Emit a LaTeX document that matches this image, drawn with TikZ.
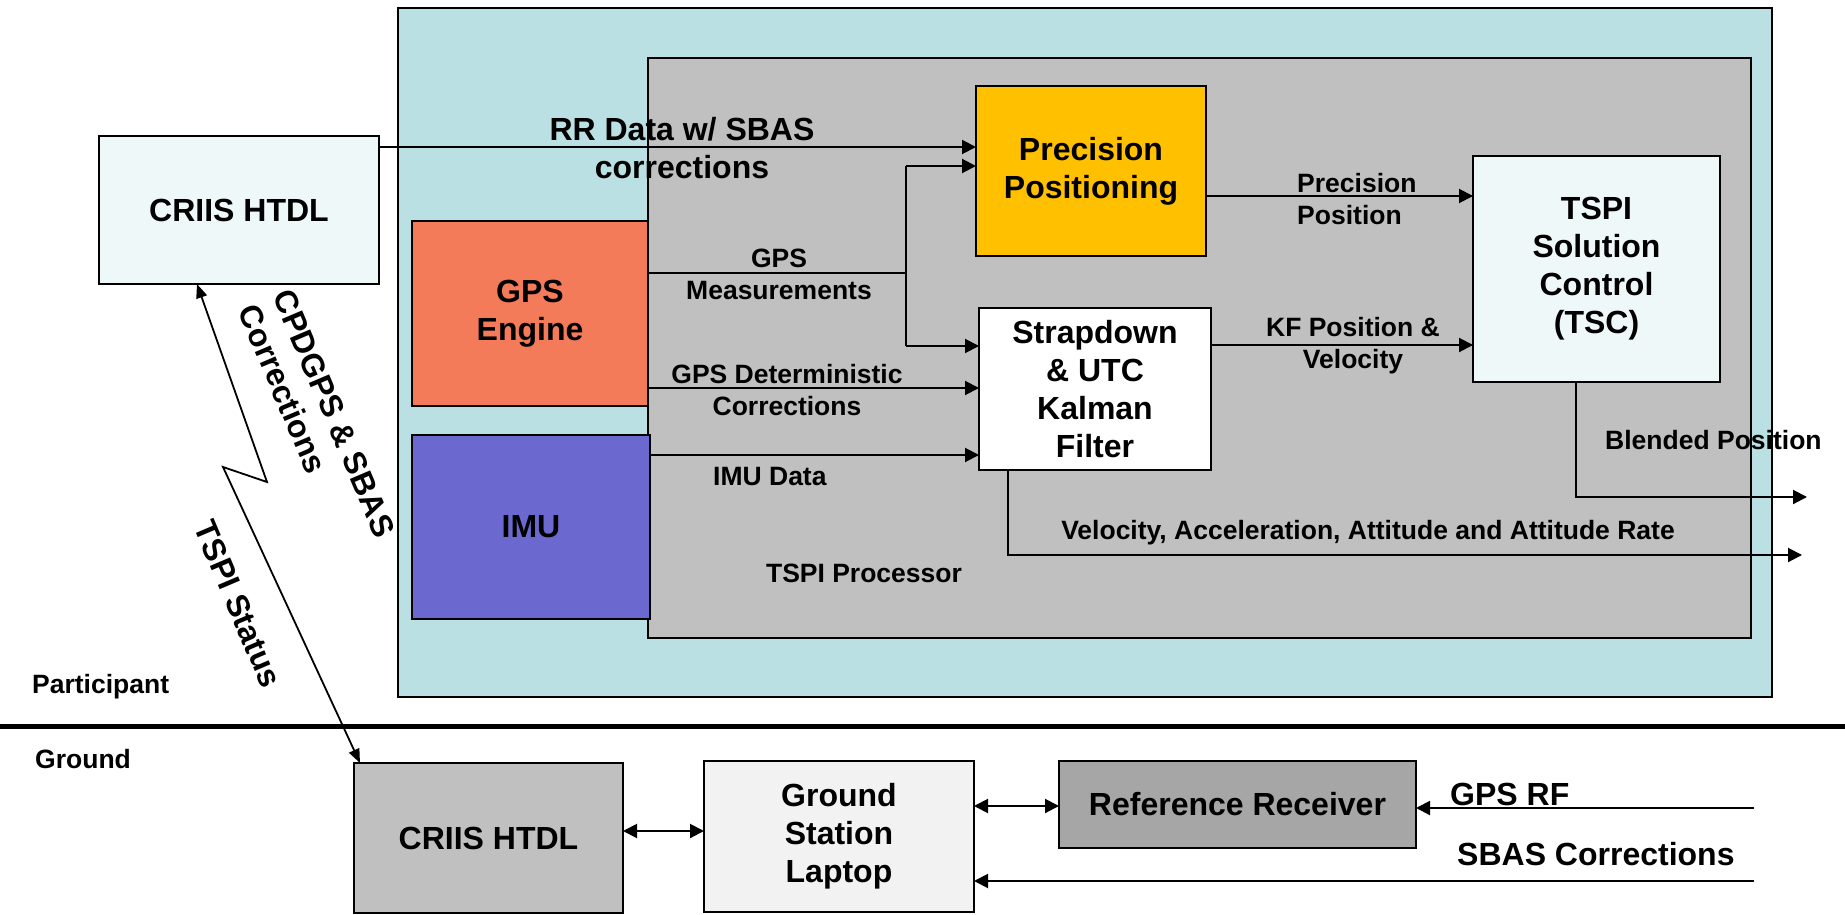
\documentclass[tikz,border=0pt]{standalone}
\usepackage{fontspec}
\setmainfont{Liberation Sans}
\usetikzlibrary{arrows.meta,calc}
\definecolor{tealbg}{HTML}{BAE0E3}
\definecolor{procgray}{HTML}{C0C0C0}
\definecolor{lightbox}{HTML}{EFF8F8}
\definecolor{gpscol}{HTML}{F47B5A}
\definecolor{imucol}{HTML}{6B69CF}
\definecolor{preccol}{HTML}{FFC000}
\definecolor{laptopcol}{HTML}{F2F2F2}
\definecolor{rrcol}{HTML}{A6A6A6}
\newcommand{\myBig}{\fontsize{32}{38}\selectfont\bfseries}
\newcommand{\mySmall}{\fontsize{26.5}{32}\selectfont\bfseries}
\begin{document}
\begin{tikzpicture}[x=1pt,y=-1pt,
  blk/.style={draw=black, line width=2.5pt, inner sep=0pt, outer sep=0pt, anchor=north west, align=center, font=\myBig},
  lbl/.style={inner sep=0pt, align=center, font=\mySmall},
  biglbl/.style={inner sep=0pt, align=center, font=\myBig},
  arr/.style={line width=2pt, -{Triangle[length=14pt,width=14pt]}},
  dblarr/.style={line width=2pt, {Triangle[length=14pt,width=14pt]}-{Triangle[length=14pt,width=14pt]}},
  ln/.style={line width=2pt}]
\useasboundingbox (0,0) rectangle (1845,915);
% containers
\node[blk, fill=tealbg, minimum width=1374pt, minimum height=689pt] (teal) at (398,8) {};
\node[blk, fill=procgray, minimum width=1103pt, minimum height=580pt] (proc) at (648,58) {};
% participant blocks
\node[blk, fill=lightbox, minimum width=280pt, minimum height=148pt] (lcriis) at (99,136) {CRIIS HTDL};
\node[blk, fill=gpscol, minimum width=236pt, minimum height=185pt] (gps) at (412,221) {GPS\\Engine};
\node[blk, fill=imucol, minimum width=238pt, minimum height=184pt] (imu) at (412,435) {IMU};
\node[blk, fill=preccol, minimum width=230pt, minimum height=170pt] (prec) at (976,86) {Precision\\Positioning};
\node[blk, fill=white, minimum width=232pt, minimum height=162pt] (kf) at (979,308) {Strapdown\\\& UTC\\Kalman\\Filter};
\node[blk, fill=lightbox, minimum width=247pt, minimum height=226pt] (tsc) at (1473,156) {TSPI\\Solution\\Control\\(TSC)};
% ground blocks
\node[blk, fill=procgray, minimum width=269pt, minimum height=150pt] (gcriis) at (354,763) {CRIIS HTDL};
\node[blk, fill=laptopcol, minimum width=270pt, minimum height=151pt] (laptop) at (704,761) {Ground\\Station\\Laptop};
\node[blk, fill=rrcol, minimum width=357pt, minimum height=87pt] (refrx) at (1059,761) {Reference Receiver};
% separator
\coordinate (sepL) at (0,726);
\coordinate (sepR) at (1845,726);
\draw[line width=5pt] (sepL) -- (sepR);
% participant connectors
\coordinate (yRR) at (0,147);
\draw[arr] (lcriis.east |- yRR) -- (prec.west |- yRR);
\coordinate (jTop) at (906,166);
\coordinate (jMid) at (906,273);
\coordinate (jBot) at (906,346);
\draw[ln] (gps.east |- jMid) -- (jMid);
\draw[ln] (jTop) -- (jBot);
\draw[arr] (jTop) -- (prec.west |- jTop);
\draw[arr] (jBot) -- (kf.west |- jBot);
\coordinate (yDet) at (0,388);
\draw[arr] (gps.east |- yDet) -- (kf.west |- yDet);
\coordinate (yIMU) at (0,455);
\draw[arr] (imu.east |- yIMU) -- (kf.west |- yIMU);
\coordinate (yPP) at (0,196);
\draw[arr] (prec.east |- yPP) -- (tsc.west |- yPP);
\coordinate (yKF) at (0,345);
\draw[arr] (kf.east |- yKF) -- (tsc.west |- yKF);
\coordinate (bpStart) at ($(tsc.south west)+(103,0)$);
\coordinate (bpEnd) at (1807,497);
\draw[arr] (bpStart) |- (bpEnd);
\coordinate (vStart) at ($(kf.south west)+(29,0)$);
\coordinate (vEnd) at (1802,555);
\draw[arr] (vStart) |- (vEnd);
% radio link
\coordinate (ltTop) at ($(lcriis.south west)+(98,0)$);
\coordinate (ltBot) at ($(gcriis.north west)+(6,0)$);
\draw[line width=1.8pt, {Triangle[length=14pt,width=11pt]}-{Triangle[length=14pt,width=11pt]}] (ltTop) -- (267,482) -- (223,467) -- (ltBot);
% ground connectors
\coordinate (yG1) at (0,831);
\draw[dblarr] (gcriis.east |- yG1) -- (laptop.west |- yG1);
\coordinate (yG2) at (0,806);
\draw[dblarr] (laptop.east |- yG2) -- (refrx.west |- yG2);
\coordinate (gpsrfSrc) at (1754,808);
\draw[arr] (gpsrfSrc) -- (refrx.east |- gpsrfSrc);
\coordinate (sbasSrc) at (1754,881);
\draw[arr] (sbasSrc) -- (laptop.east |- sbasSrc);
% labels
\node[biglbl] (rrlbl) at (682,148) {RR Data w/ SBAS\\corrections};
\node[lbl] (gmlbl) at (779,274) {GPS\\Measurements};
\node[lbl] (gdlbl) at (787,390) {GPS Deterministic\\Corrections};
\node[lbl, anchor=west] (imulbl) at (713,477) {IMU Data};
\node[lbl, align=left, anchor=west] (pplbl) at (1297,199) {Precision\\Position};
\node[lbl] (kflbl) at (1353,346) {KF Position \&\\Velocity};
\node[lbl, anchor=west] (bplbl) at (1605,440) {Blended Position};
\node[lbl] (vellbl) at (1368,533) {Velocity, Acceleration, Attitude and Attitude Rate};
\node[lbl] (tplbl) at (864,573) {TSPI Processor};
\node[lbl, anchor=west] (partlbl) at (32,687) {Participant};
\node[lbl, anchor=west] (gndlbl) at (35,759) {Ground};
\node[biglbl, anchor=west] (rflbl) at (1450,794) {GPS RF};
\node[biglbl, anchor=west] (sbaslbl) at (1457,854) {SBAS Corrections};
\node[biglbl, align=left, rotate=-67] (cplbl) at (317,421) {CPDGPS \& SBAS\\Corrections};
\node[biglbl, rotate=-67] (tslbl) at (238,604) {TSPI Status};
\end{tikzpicture}
\end{document}
